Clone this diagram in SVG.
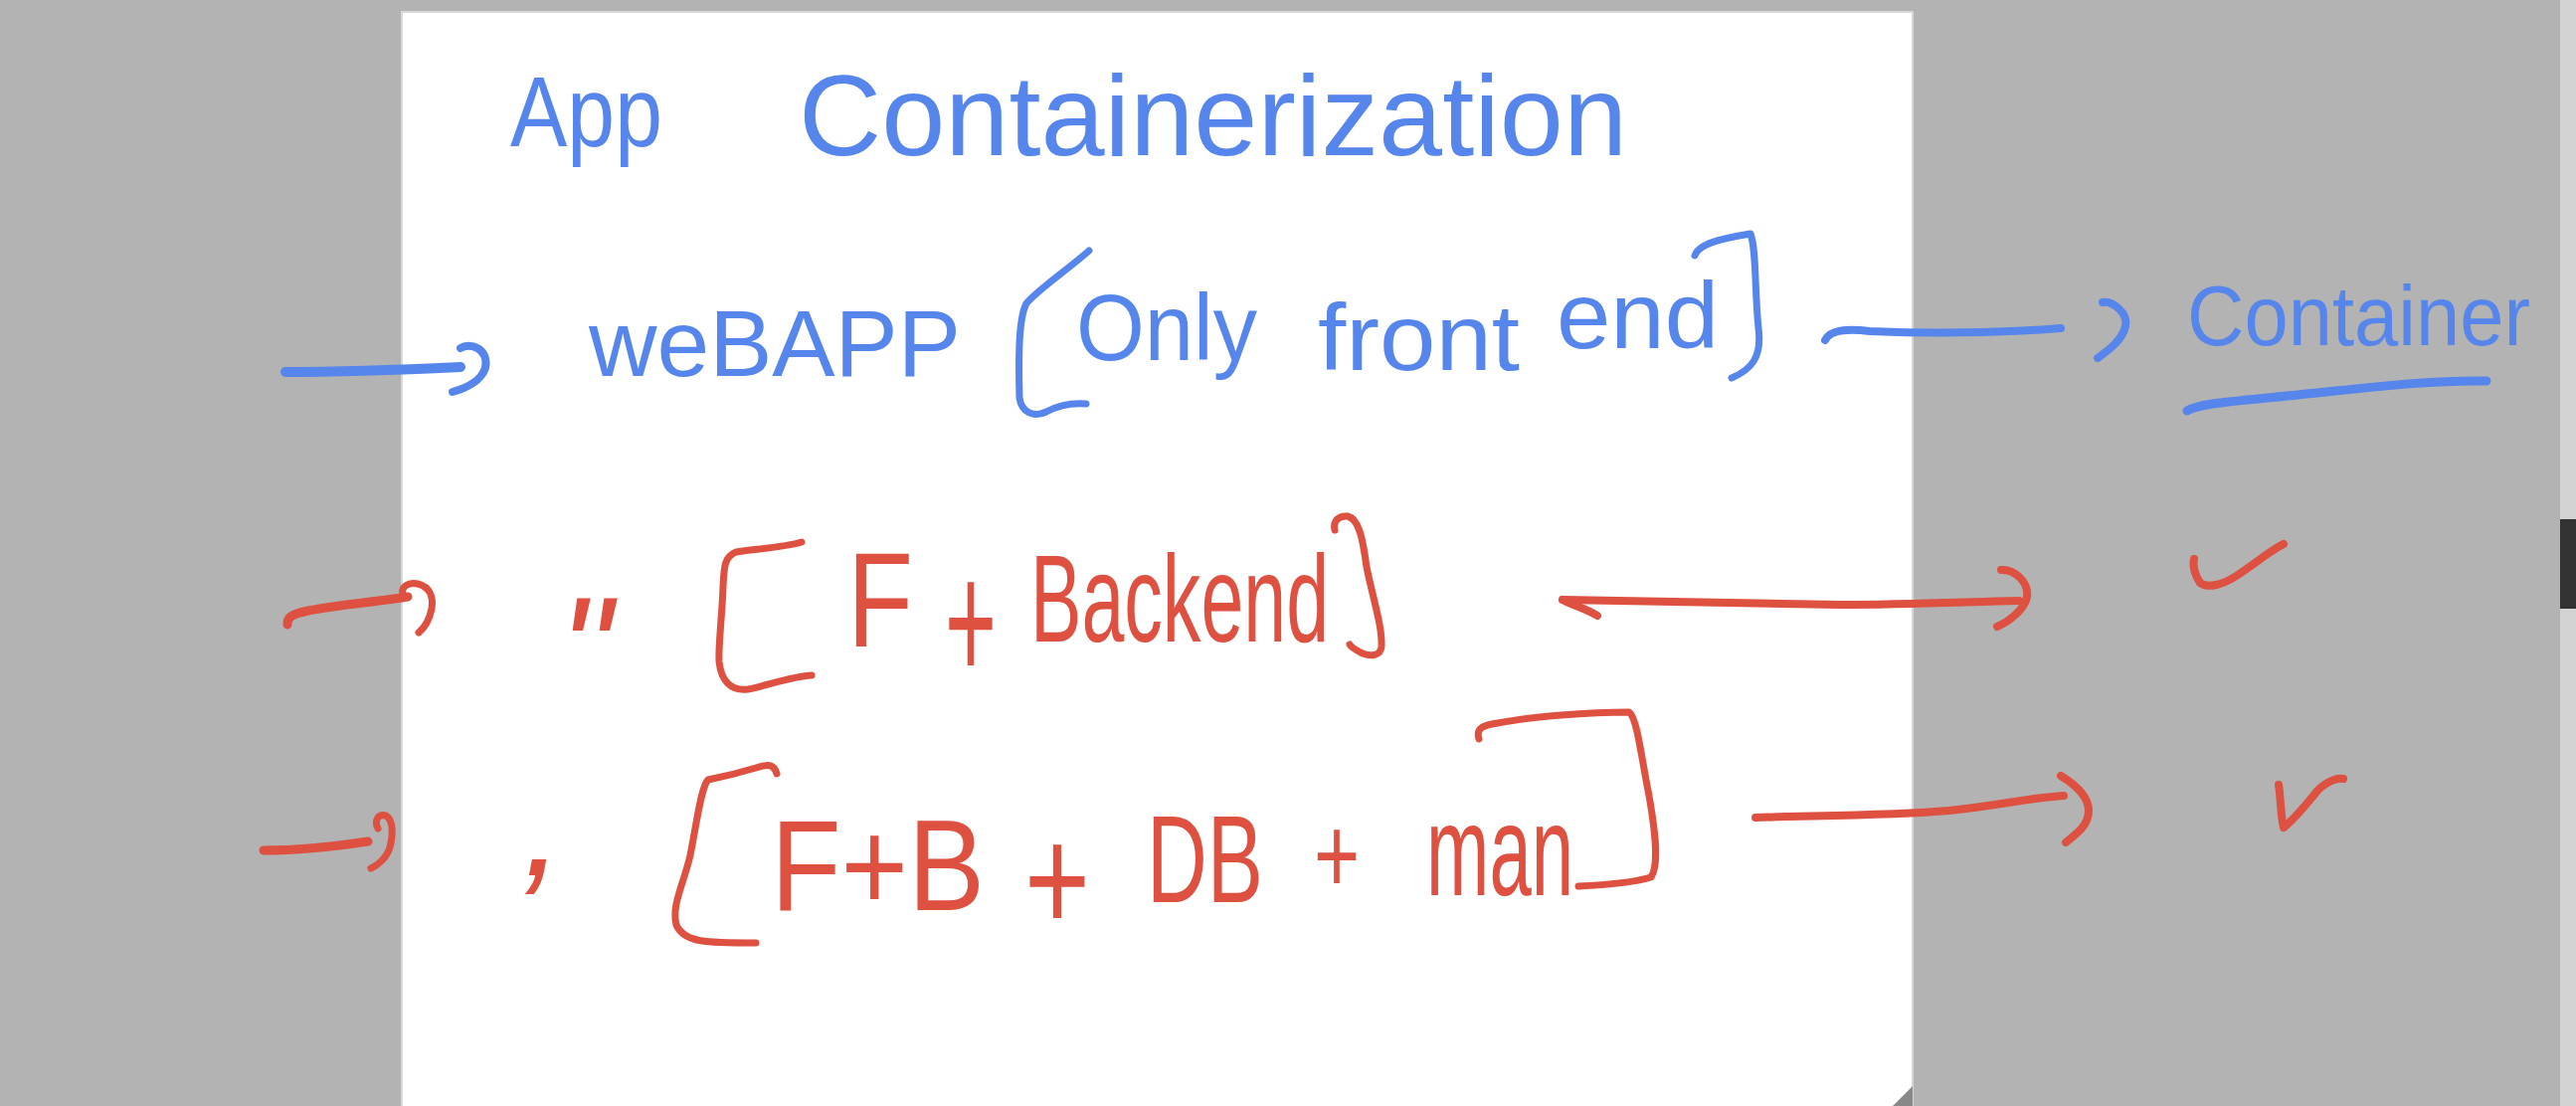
<svg xmlns="http://www.w3.org/2000/svg" width="2590" height="1112" viewBox="0 0 2590 1112">
<style>
.t{font-family:"Liberation Sans",Arial,sans-serif;}
.b{fill:#5686EC;}
.r{fill:#DE5040;}
.sb{fill:none;stroke:#5686EC;stroke-linecap:round;stroke-linejoin:round;}
.sr{fill:none;stroke:#DE5040;stroke-linecap:round;stroke-linejoin:round;}
</style>
<g id="background">
<rect x="0" y="0" width="2590" height="1112" fill="#b3b3b3"/>
<rect x="404" y="12" width="1519" height="1110" fill="#ffffff" stroke="#d8d8d8" stroke-width="2"/>
<polygon points="1903,1112 1923,1092 1923,1112" fill="#888888"/>
<rect x="2574" y="0" width="16" height="1112" fill="#d3d3d3"/>
<rect x="2574" y="522" width="16" height="90" fill="#333333"/>
</g>
<g id="title">
<text class="t b" x="513" y="147" font-size="100" textLength="153" lengthAdjust="spacingAndGlyphs">App</text>
<text class="t b" x="803" y="156" font-size="115" textLength="833" lengthAdjust="spacingAndGlyphs">Containerization</text>
</g>
<g id="node-webapp">
<text class="t b" x="592" y="378" font-size="95" textLength="374" lengthAdjust="spacingAndGlyphs">weBAPP</text>
<path class="sb" stroke-width="7" d="M1095,252 C1075,270 1045,290 1032,305 C1024,320 1024,360 1025,400 C1027,415 1040,420 1052,414 C1065,407 1080,405 1092,406"/>
<text class="t b" x="1082" y="362" font-size="95" textLength="182" lengthAdjust="spacingAndGlyphs">Only</text>
<text class="t b" x="1325" y="372" font-size="95" textLength="203" lengthAdjust="spacingAndGlyphs">front</text>
<text class="t b" x="1565" y="350" font-size="95" textLength="163" lengthAdjust="spacingAndGlyphs">end</text>
<path class="sb" stroke-width="7" d="M1704,257 C1708,245 1730,240 1760,235 C1766,250 1764,290 1768,330 C1772,360 1760,372 1741,380"/>
</g>
<g id="node-container">
<text class="t b" x="2199" y="347" font-size="86" textLength="345" lengthAdjust="spacingAndGlyphs">Container</text>
<path class="sb" stroke-width="9" d="M2199,413 C2210,406 2240,404 2300,398 C2380,390 2440,382 2500,383"/>
</g>
<g id="node-fb">
<text class="t r" x="562" y="705" font-size="150" font-style="italic">"</text>
<path class="sr" stroke-width="7" d="M806,545 C790,550 760,552 740,555 C728,560 728,570 727,590 C726,620 722,650 723,665 C725,685 735,695 752,693 C770,690 795,680 816,679"/>
<text class="t r" x="852" y="650" font-size="135" textLength="66" lengthAdjust="spacingAndGlyphs">F</text>
<text class="t r" x="950" y="684" font-size="170" textLength="52" lengthAdjust="spacingAndGlyphs">+</text>
<text class="t r" x="1036" y="645" font-size="125" textLength="300" lengthAdjust="spacingAndGlyphs">Backend</text>
<path class="sr" stroke-width="7" d="M1342,533 C1340,525 1345,518 1355,519 C1366,522 1370,540 1374,570 C1380,600 1390,630 1389,650 C1388,660 1378,660 1370,657 C1362,653 1358,650 1357,648"/>
</g>
<g id="check-1">
<path class="sr" stroke-width="8" d="M2206,562 C2204,570 2208,580 2212,586 C2220,592 2235,588 2250,578 C2268,566 2285,552 2296,547"/>
</g>
<g id="node-fbdb">
<text class="t r" x="525" y="880" font-size="150" font-style="italic">,</text>
<path class="sr" stroke-width="7" d="M781,778 C778,768 772,768 760,772 C740,778 722,782 712,784 C705,790 700,830 694,860 C687,890 675,910 680,930 C688,948 710,948 760,948"/>
<text class="t r" x="775" y="915" font-size="130" textLength="215" lengthAdjust="spacingAndGlyphs">F+B</text>
<text class="t r" x="1030" y="936" font-size="150" textLength="66" lengthAdjust="spacingAndGlyphs">+</text>
<text class="t r" x="1153" y="907" font-size="125" textLength="117" lengthAdjust="spacingAndGlyphs">DB</text>
<text class="t r" x="1321" y="898" font-size="110" textLength="46" lengthAdjust="spacingAndGlyphs">+</text>
<text class="t r" x="1434" y="900" font-size="130" textLength="148" lengthAdjust="spacingAndGlyphs">man</text>
<path class="sr" stroke-width="7" d="M1487,743 C1484,733 1490,730 1500,728 C1540,720 1600,716 1638,716 C1646,722 1650,760 1658,800 C1665,840 1668,870 1660,882 C1640,888 1610,890 1587,891"/>
</g>
<g id="check-2">
<path class="sr" stroke-width="8" d="M2291,789 C2293,800 2293,820 2296,832 C2305,825 2318,810 2330,795 C2340,785 2350,782 2356,783"/>
</g>
<g id="connectors">
<path class="sb" stroke-width="10" d="M287,374 C330,374 400,372 463,369"/>
<path class="sb" stroke-width="8" d="M463,350 C472,344 492,350 488,370 C484,382 470,390 455,394"/>
<path class="sb" stroke-width="8" d="M1835,342 C1840,332 1855,330 1880,333 C1950,336 2020,334 2072,330"/>
<path class="sb" stroke-width="8" d="M2114,304 C2124,302 2140,315 2137,328 C2134,342 2120,352 2109,360"/>
<path class="sr" stroke-width="9" d="M289,628 C288,620 295,617 310,614 C340,608 380,605 410,600"/>
<path class="sr" stroke-width="7" d="M405,598 C403,590 410,585 420,587 C432,590 436,600 434,612 C432,622 428,630 421,636"/>
<path class="sr" stroke-width="8" d="M1571,603 C1650,604 1750,606 1850,608 C1920,608 1980,605 2030,604"/>
<path class="sr" stroke-width="8" d="M1571,603 C1582,609 1595,612 1606,619"/>
<path class="sr" stroke-width="8" d="M2012,573 C2025,572 2040,585 2038,600 C2036,612 2020,625 2008,630"/>
<path class="sr" stroke-width="9" d="M265,855 C290,855 330,852 370,846"/>
<path class="sr" stroke-width="7" d="M380,833 C376,825 380,818 388,820 C396,825 395,840 392,852 C389,862 380,870 373,873"/>
<path class="sr" stroke-width="8" d="M1765,822 C1830,820 1900,820 1960,815 C2010,810 2040,802 2075,800"/>
<path class="sr" stroke-width="8" d="M2072,780 C2085,788 2100,800 2100,815 C2100,830 2088,838 2077,847"/>
</g>
</svg>
